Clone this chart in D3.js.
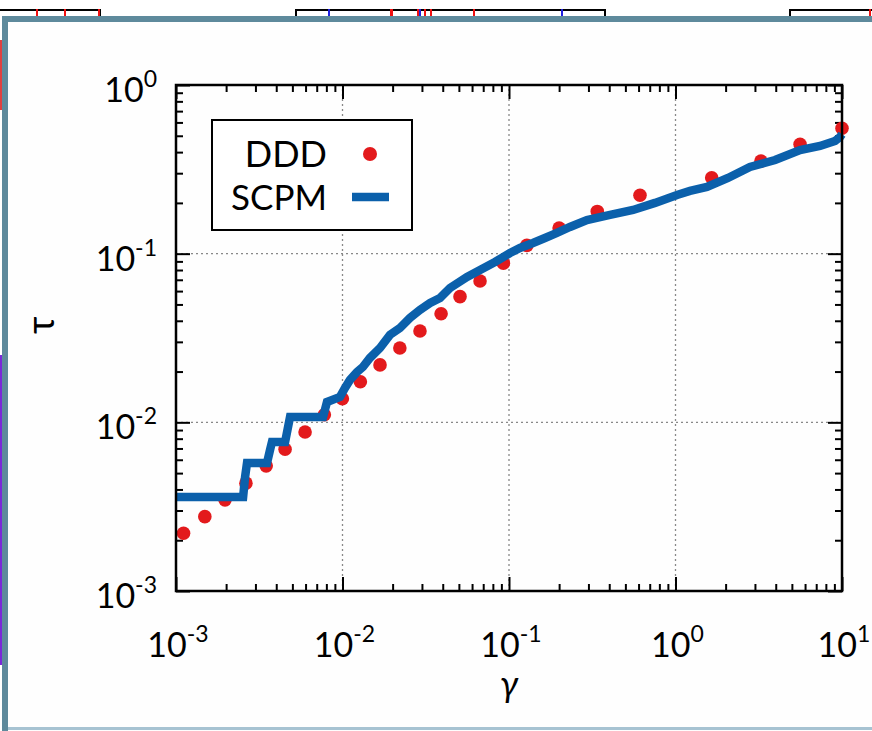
<!DOCTYPE html>
<html>
<head>
<meta charset="utf-8">
<script src="https://cdn.jsdelivr.net/npm/d3@7"></script>
<style>
  body { margin: 0; background: #fff; }
  svg { display: block; font-family: Lato, "Open Sans", sans-serif; }
</style>
</head>
<body>
<svg id="chart" width="872" height="731"></svg>
<script>
// DDD points (gamma, tau)
var gammaDDD = [0.00111, 0.00149, 0.00197, 0.00263, 0.00348, 0.00452, 0.00596, 0.00778, 0.00998, 0.0128,
                0.0168, 0.0221, 0.0292, 0.0391, 0.0508, 0.0670, 0.0925, 0.128, 0.200, 0.339,
                0.612, 1.65, 3.26, 5.60, 10.0];
var tauDDD   = [0.00220, 0.00276, 0.00347, 0.00436, 0.00552, 0.00693, 0.00877, 0.0111, 0.0138, 0.0174,
                0.0219, 0.0276, 0.0348, 0.0440, 0.0556, 0.0689, 0.0877, 0.112, 0.142, 0.178,
                0.222, 0.282, 0.354, 0.445, 0.554];

// SCPM curve (gamma, tau)
var gammaSCPM = [0.001, 0.00253, 0.00260, 0.00267, 0.00352, 0.00367, 0.00377, 0.00452, 0.00484, 0.00764,
                 0.00807, 0.00966, 0.01035, 0.01109, 0.01222, 0.01327, 0.01462, 0.01679, 0.01928, 0.02213,
                 0.02541, 0.02917, 0.0336, 0.0385, 0.0442, 0.0560, 0.0670, 0.0824, 0.1014, 0.1164,
                 0.1393, 0.1644, 0.1941, 0.2323, 0.2938, 0.4043, 0.5559, 0.7535, 1.021, 1.222,
                 1.545, 2.066, 2.800, 3.963, 5.597, 7.38, 9.08, 9.73, 10.0];
var tauSCPM   = [0.00361, 0.00361, 0.00475, 0.00574, 0.00574, 0.00686, 0.00765, 0.00765, 0.01076, 0.01076,
                 0.01321, 0.01415, 0.0160, 0.01784, 0.01986, 0.02131, 0.0241, 0.0276, 0.0330, 0.0363,
                 0.0416, 0.0464, 0.0510, 0.0546, 0.0626, 0.0728, 0.0800, 0.0893, 0.1009, 0.1081,
                 0.1157, 0.1239, 0.1327, 0.1440, 0.1584, 0.1696, 0.1815, 0.2000, 0.2230, 0.2355,
                 0.2485, 0.2812, 0.3266, 0.3592, 0.4119, 0.4348, 0.4657, 0.4918, 0.510];

var xExps = [-3, -2, -1, 0, 1];
var yExps = [-3, -2, -1, 0];
var seriesNames = ["DDD", "SCPM"];

var red = "#e31a1c", blue = "#0b60ab";

var plotLeft = 176, plotRight = 842, plotTop = 85, plotBottom = 591;

var x = d3.scaleLog().domain([1e-3, 10]).range([plotLeft, plotRight]);
var y = d3.scaleLog().domain([1e-3, 1]).range([plotBottom, plotTop]);

var svg = d3.select("#chart");

// window frame + bits of background
svg.append("rect").attr("x", 0).attr("y", 0).attr("width", 872).attr("height", 731).attr("fill", "#fff");
var bg = svg.append("g").attr("stroke", "#000").attr("stroke-width", 2).attr("fill", "none");
bg.append("path").attr("d", "M0,10H100V20");
bg.append("path").attr("d", "M296,20V10H605V20");
bg.append("path").attr("d", "M790,20V10H872");
var marks = svg.append("g").attr("stroke-width", 2);
[37, 65, 99, 329, 391, 392, 418, 420, 425, 431, 474, 562, 870].forEach(function (mx, i) {
    marks.append("line").attr("x1", mx).attr("x2", mx).attr("y1", 9).attr("y2", 19)
        .attr("stroke", i % 4 == 3 ? "#1f1fe0" : "#f01010");
});
svg.append("rect").attr("x", 0).attr("y", 355).attr("width", 2).attr("height", 310).attr("fill", "#7a28d8");
svg.append("rect").attr("x", 0).attr("y", 40).attr("width", 2).attr("height", 70).attr("fill", "#e04040");

svg.append("rect").attr("x", 2).attr("y", 16).attr("width", 880).attr("height", 720)
    .attr("fill", "#fefefe").attr("stroke", "none");
svg.append("path").attr("d", "M5,731V19H872").attr("fill", "none")
    .attr("stroke", "#5e8a9c").attr("stroke-width", 6);
svg.append("line").attr("x1", 8).attr("x2", 872).attr("y1", 728.5).attr("y2", 728.5)
    .attr("stroke", "#a7c3d2").attr("stroke-width", 3);

// grid
var grid = svg.append("g").attr("stroke", "#888").attr("stroke-width", 1.3).attr("stroke-dasharray", "2,3");
[1e-2, 1e-1, 1].forEach(function (v) {
    grid.append("line").attr("x1", x(v)).attr("x2", x(v)).attr("y1", plotBottom).attr("y2", plotTop);
});
[1e-2, 1e-1].forEach(function (v) {
    grid.append("line").attr("x1", plotLeft).attr("x2", plotRight).attr("y1", y(v)).attr("y2", y(v));
});

// ticks on all four sides, pointing inward
function logTicks(exps) {
    var t = [];
    for (var i = 0; i < exps.length; i++) {
        t.push(Math.pow(10, exps[i]));
        if (i < exps.length - 1) for (var k = 2; k <= 9; k++) t.push(k * Math.pow(10, exps[i]));
    }
    return t;
}
var xt = logTicks(xExps), yt = logTicks(yExps);
var majorLen = 14, minorLen = 7;

function styleTicks(g) {
    g.select(".domain").remove();
    g.selectAll(".tick text").remove();
    g.selectAll(".tick line").attr("stroke", "#000").attr("stroke-width", 2);
}
function isMajor(v) { var e = Math.log10(v); return Math.abs(e - Math.round(e)) < 1e-9; }

var axB = svg.append("g").attr("transform", "translate(0," + plotBottom + ")")
    .call(d3.axisBottom(x).tickValues(xt).tickSizeInner(-minorLen).tickSizeOuter(0));
var axT = svg.append("g").attr("transform", "translate(0," + plotTop + ")")
    .call(d3.axisTop(x).tickValues(xt).tickSizeInner(-minorLen).tickSizeOuter(0));
var axL = svg.append("g").attr("transform", "translate(" + plotLeft + ",0)")
    .call(d3.axisLeft(y).tickValues(yt).tickSizeInner(-minorLen).tickSizeOuter(0));
var axR = svg.append("g").attr("transform", "translate(" + plotRight + ",0)")
    .call(d3.axisRight(y).tickValues(yt).tickSizeInner(-minorLen).tickSizeOuter(0));
[axB, axT, axL, axR].forEach(styleTicks);
axB.selectAll(".tick line").attr("y2", function (d) { return isMajor(d) ? -majorLen : -minorLen; });
axT.selectAll(".tick line").attr("y2", function (d) { return isMajor(d) ? majorLen : minorLen; });
axL.selectAll(".tick line").attr("x2", function (d) { return isMajor(d) ? majorLen : minorLen; });
axR.selectAll(".tick line").attr("x2", function (d) { return isMajor(d) ? -majorLen : -minorLen; });

// tick labels 10^n
function powLabel(sel, e) {
    sel.append("tspan").text("10");
    sel.append("tspan").attr("dy", -15).attr("font-size", 23).text(e);
}
xExps.forEach(function (e) {
    var t = svg.append("text").attr("x", x(Math.pow(10, e)) + 2).attr("y", 657)
        .attr("text-anchor", "middle").attr("font-size", 34).attr("fill", "#000");
    powLabel(t, e);
});
yExps.forEach(function (e) {
    var t = svg.append("text").attr("x", 157).attr("y", y(Math.pow(10, e)) + 17)
        .attr("text-anchor", "end").attr("font-size", 34).attr("fill", "#000");
    powLabel(t, e);
});

// axis titles
svg.append("text").attr("transform", "translate(54,325) rotate(-90)")
    .attr("text-anchor", "middle").attr("font-size", 38).text("τ");
svg.append("text").attr("x", x(0.1)).attr("y", 697)
    .attr("text-anchor", "middle").attr("font-size", 36).attr("font-style", "italic").text("γ");

// DDD points
svg.append("g").selectAll("circle")
    .data(d3.zip(gammaDDD, tauDDD))
    .enter().append("circle")
    .attr("cx", function (d) { return x(d[0]); })
    .attr("cy", function (d) { return y(d[1]); })
    .attr("r", 6.8)
    .attr("fill", red);

// SCPM line
var line = d3.line().x(function (d) { return x(d[0]); }).y(function (d) { return y(d[1]); });
svg.append("path")
    .datum(d3.zip(gammaSCPM, tauSCPM))
    .attr("d", line)
    .attr("fill", "none")
    .attr("stroke", blue)
    .attr("stroke-width", 8.5)
    .attr("stroke-linejoin", "miter");

// plot frame
svg.append("rect").attr("x", plotLeft).attr("y", plotTop)
    .attr("width", plotRight - plotLeft).attr("height", plotBottom - plotTop)
    .attr("fill", "none").attr("stroke", "#000").attr("stroke-width", 2.5);

// legend
var lg = svg.append("g");
lg.append("rect").attr("x", 212).attr("y", 120).attr("width", 200).attr("height", 110)
    .attr("fill", "#fff").attr("stroke", "#000").attr("stroke-width", 2);
lg.append("text").attr("x", 327).attr("y", 167).attr("text-anchor", "end").attr("font-size", 36).text(seriesNames[0]);
lg.append("text").attr("x", 327).attr("y", 210).attr("text-anchor", "end").attr("font-size", 35).text(seriesNames[1]);
lg.append("circle").attr("cx", 370).attr("cy", 154).attr("r", 7).attr("fill", red);
lg.append("line").attr("x1", 352).attr("x2", 389).attr("y1", 197).attr("y2", 197)
    .attr("stroke", blue).attr("stroke-width", 8.5);
</script>
</body>
</html>
